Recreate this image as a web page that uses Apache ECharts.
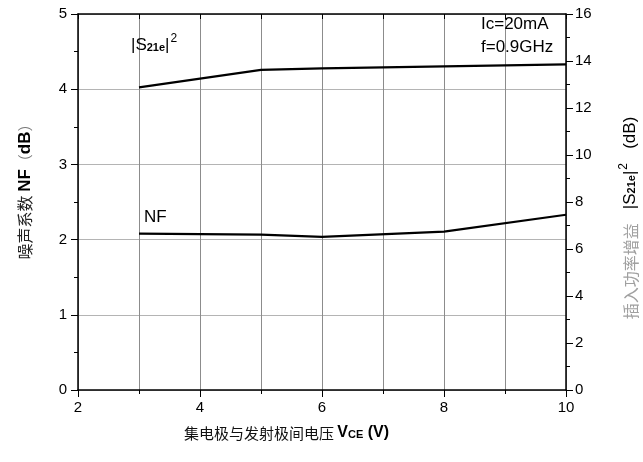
<!DOCTYPE html>
<html>
<head>
<meta charset="utf-8">
<script src="https://cdn.jsdelivr.net/npm/echarts@6/dist/echarts.min.js"></script>
<style>
html,body{margin:0;padding:0;background:#fff;}
#c{width:643px;height:462px;}
</style>
</head>
<body>
<div id="c"></div>
<script>
// Data
var vce = [3, 5, 6, 8, 10];
var nfValues = [2.08, 2.065, 2.035, 2.105, 2.33];
var gainValues = [12.88, 13.62, 13.69, 13.77, 13.86];
var xTicks = [2, 4, 6, 8, 10];
var nfTicks = [0, 1, 2, 3, 4, 5];
var gainTicks = [0, 2, 4, 6, 8, 10, 12, 14, 16];

var LAT = '"Liberation Sans", Arial, sans-serif';
var CJK = '"Noto Sans CJK SC", sans-serif';

function pairs(xs, ys) { return xs.map(function (x, i) { return [x, ys[i]]; }); }

var s21Rich = {
  n: {fontSize: 17, fontFamily: LAT, fill: '#000', verticalAlign: 'bottom'},
  s: {fontSize: 11, fontFamily: LAT, fontWeight: 'bold', fill: '#000', verticalAlign: 'bottom', padding: [0, 0, 1, 0]},
  sup: {fontSize: 12, fontFamily: LAT, fill: '#000', verticalAlign: 'bottom', padding: [0, 0, 9, 1]},
  g: {fontSize: 16, fontFamily: CJK, fill: '#a0a0a0', verticalAlign: 'bottom'}
};

var chart = echarts.init(document.getElementById('c'), null, {renderer: 'canvas'});
var option = {
  backgroundColor: '#fff',
  animation: false,
  grid: {left: 78, right: 77, top: 14, bottom: 72},
  xAxis: [{
    type: 'value', position: 'bottom',
    min: xTicks[0], max: xTicks[xTicks.length - 1], interval: 2,
    axisLine: {show: true, onZero: false, lineStyle: {color: '#000', width: 1.5}},
    axisTick: {show: true, inside: false, length: 7, lineStyle: {color: '#000'}},
    minorTick: {show: true, splitNumber: 2, length: 4, lineStyle: {color: '#000'}},
    splitLine: {show: true, lineStyle: {color: '#8c8c8c', width: 1}},
    minorSplitLine: {show: true, lineStyle: {color: '#8c8c8c', width: 1}},
    axisLabel: {color: '#000', fontSize: 15, fontFamily: LAT, margin: 10}
  }, {
    type: 'value', position: 'top',
    min: 2, max: 10, interval: 1,
    axisLine: {show: true, onZero: false, lineStyle: {color: '#000', width: 1.5}},
    axisTick: {show: true, inside: true, length: 5, lineStyle: {color: '#000'}},
    splitLine: {show: false},
    axisLabel: {show: false}
  }],
  yAxis: [{
    type: 'value', position: 'left',
    min: nfTicks[0], max: nfTicks[nfTicks.length - 1], interval: 1,
    axisLine: {show: true, onZero: false, lineStyle: {color: '#000', width: 1.5}},
    axisTick: {show: true, inside: false, length: 7, lineStyle: {color: '#000'}},
    minorTick: {show: true, splitNumber: 2, length: 4, lineStyle: {color: '#000'}},
    splitLine: {show: true, lineStyle: {color: '#b4b4b4', width: 1}},
    axisLabel: {color: '#000', fontSize: 15, fontFamily: LAT, margin: 11}
  }, {
    type: 'value', position: 'right',
    min: gainTicks[0], max: gainTicks[gainTicks.length - 1], interval: 2,
    axisLine: {show: true, onZero: false, lineStyle: {color: '#000', width: 1.5}},
    axisTick: {show: true, inside: false, length: 7, lineStyle: {color: '#000'}},
    minorTick: {show: true, splitNumber: 2, length: 4, lineStyle: {color: '#000'}},
    splitLine: {show: false},
    axisLabel: {color: '#000', fontSize: 15, fontFamily: LAT, margin: 9}
  }],
  series: [{
    name: 'NF', type: 'line', xAxisIndex: 0, yAxisIndex: 0,
    data: pairs(vce, nfValues), showSymbol: false, symbol: 'none',
    lineStyle: {color: '#000', width: 2.2}
  }, {
    name: 'S21e', type: 'line', xAxisIndex: 0, yAxisIndex: 1,
    data: pairs(vce, gainValues), showSymbol: false, symbol: 'none',
    lineStyle: {color: '#000', width: 2.2}
  }],
  graphic: [{
    type: 'text', x: 131, y: 54, z: 100,
    style: {
      text: '{n||S}{s|21e}{n||}{sup|2}',
      textAlign: 'left', textVerticalAlign: 'bottom',
      rich: s21Rich
    }
  }, {
    type: 'text', left: 144, top: 209, z: 100,
    style: {text: 'NF', fontSize: 17, fontFamily: LAT, fill: '#000'}
  }, {
    type: 'text', left: 481, top: 16, z: 100,
    style: {text: 'Ic=20mA', fontSize: 17, fontFamily: LAT, fill: '#000'}
  }, {
    type: 'text', left: 481, top: 39, z: 100,
    style: {text: 'f=0.9GHz', fontSize: 17, fontFamily: LAT, fill: '#000'}
  }, {
    type: 'text', x: 184, y: 433, z: 100,
    style: {
      text: '{cn|集电极与发射极间电压 }{b|V}{s|CE}{b| (V)}',
      textAlign: 'left', textVerticalAlign: 'middle',
      rich: {
        cn: {fontSize: 15, fontFamily: CJK, fill: '#111', verticalAlign: 'bottom'},
        b: {fontSize: 16, fontFamily: LAT, fontWeight: 'bold', fill: '#000', verticalAlign: 'bottom'},
        s: {fontSize: 11, fontFamily: LAT, fontWeight: 'bold', fill: '#000', verticalAlign: 'bottom', padding: [0, 0, 1, 0]}
      }
    }
  }, {
    type: 'text', x: 25, y: 188, rotation: Math.PI / 2, z: 100,
    style: {
      text: '{cn|噪声系数 }{b|NF}{p|（}{b|dB}{p|）}',
      textAlign: 'center', textVerticalAlign: 'middle',
      rich: {
        cn: {fontSize: 16, fontFamily: CJK, fill: '#222'},
        p: {fontSize: 15, fontFamily: CJK, fill: '#777'},
        b: {fontSize: 17, fontFamily: LAT, fontWeight: 'bold', fill: '#000'}
      }
    }
  }, {
    type: 'text', x: 628, y: 218, rotation: Math.PI / 2, z: 100,
    style: {
      text: '{g|插入功率增益}{n|   |S}{s|21e}{n||}{sup|2}{n|   (dB)}',
      textAlign: 'center', textVerticalAlign: 'middle',
      rich: s21Rich
    }
  }]
};
chart.setOption(option);
</script>
</body>
</html>
